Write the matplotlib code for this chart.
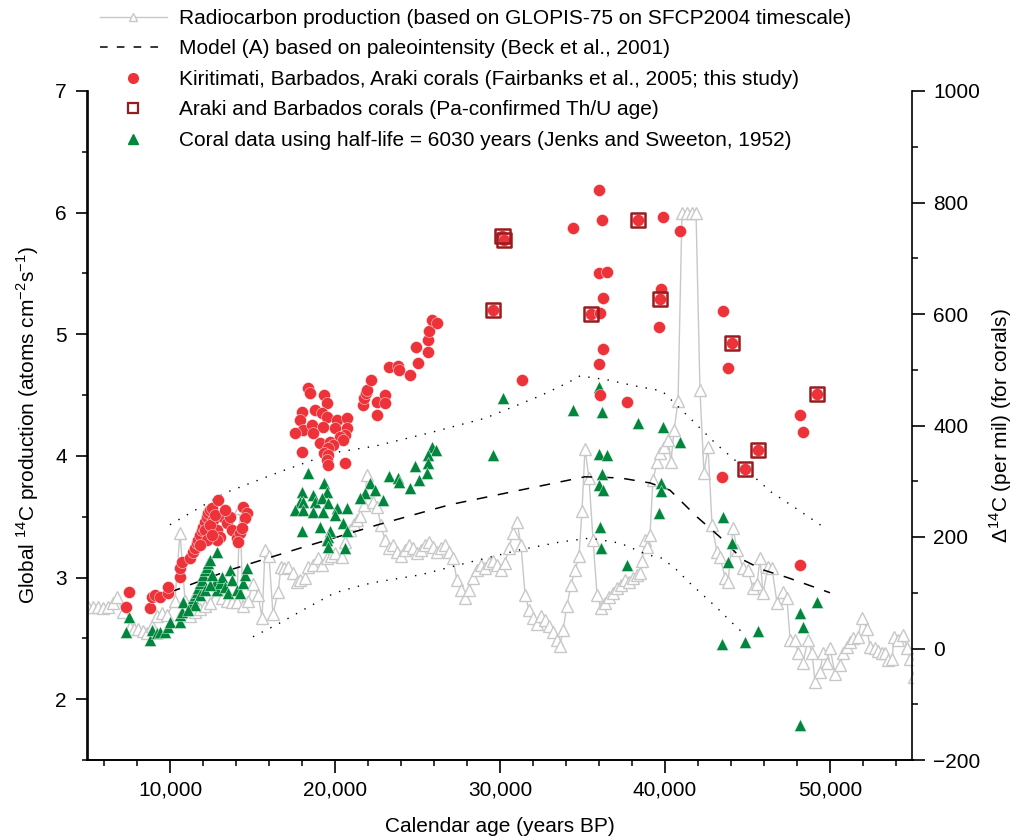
import matplotlib
matplotlib.use("Agg")
import matplotlib.pyplot as plt
from matplotlib.lines import Line2D
from matplotlib.ticker import MultipleLocator, FixedLocator

plt.rcParams['font.family'] = ['Liberation Sans', 'DejaVu Sans']

# ---------------- data ----------------
# Radiocarbon production (GLOPIS-75 on SFCP2004), left axis
prod_age = [5030, 5330, 5640, 5940, 6240, 6550, 6790, 7150, 7580, 7820, 8060, 8360, 8610, 8910, 9210,
            9520, 9820, 10300, 10610, 10910, 11210, 11520, 11820, 12120, 12420, 12850, 13150, 13450,
            13760, 14060, 14240, 14420, 14730, 15030, 15330, 15580, 15760, 16000, 16240, 16550, 16730,
            16910, 17150, 17450, 17700, 17880, 18180, 18360, 18670, 18970, 19210, 19520, 19760, 20000,
            20420, 20610, 20910, 21150, 21330, 21520, 21760, 21940, 22120, 22300, 22550, 22790, 23030,
            23270, 23520, 23760, 24000, 24240, 24480, 24730, 24970, 25210, 25450, 25700, 25940, 26180,
            26420, 26670, 26910, 27150, 27390, 27640, 27880, 28120, 28360, 28610, 28850, 29090, 29330,
            29580, 29820, 30060, 30300, 30550, 30790, 31030, 31270, 31520, 31760, 32000, 32240, 32480,
            32730, 32970, 33210, 33450, 33640, 33820, 34060, 34300, 34550, 34790, 34970, 35150, 35390,
            35640, 35880, 36120, 36360, 36610, 36850, 37090, 37330, 37580, 37820, 38060, 38300, 38480,
            38610, 38790, 38910, 39090, 39270, 39520, 39700, 39940, 40180, 40360, 40550, 40790, 41030,
            41330, 41640, 41880, 42120, 42360, 42610, 42850, 43150, 43330, 43640, 43820, 44120, 44360,
            44730, 45030, 45330, 45580, 45760, 45940, 46240, 46480, 46790, 47150, 47390, 47580, 47880,
            48060, 48360, 48670, 48910, 49090, 49390, 49580, 49820, 50000, 50300, 50610, 50790, 51030,
            51210, 51390, 51700, 51940, 52240, 52420, 52730, 52910, 53150, 53330, 53520, 53760, 53880,
            54120, 54420, 54670, 54850, 55090]
prod_val = [2.76, 2.76, 2.76, 2.75, 2.76, 2.79, 2.84, 2.72, 2.59, 2.58, 2.58, 2.56, 2.54, 2.60, 2.68,
            2.71, 2.69, 2.81, 3.37, 2.81, 2.68, 2.72, 2.74, 2.77, 2.79, 2.90, 2.83, 2.81,
            2.80, 2.80, 3.57, 2.77, 2.81, 2.95, 2.86, 2.67, 3.23, 3.18, 2.70, 2.88, 3.09,
            3.08, 3.09, 3.04, 2.96, 2.98, 3.00, 3.09, 3.10, 3.16, 3.10, 3.16, 3.18, 3.20,
            3.17, 3.29, 3.39, 3.44, 3.47, 3.51, 3.60, 3.84, 3.72, 3.62, 3.58, 3.43, 3.31,
            3.24, 3.27, 3.21, 3.18, 3.23, 3.27, 3.24, 3.20, 3.23, 3.27, 3.29, 3.25, 3.21,
            3.24, 3.27, 3.21, 3.16, 2.98, 2.90, 2.83, 2.90, 3.00, 3.06, 3.10, 3.08, 3.12,
            3.14, 3.10, 3.06, 3.12, 3.24, 3.37, 3.46, 3.27, 2.86, 2.73, 2.67, 2.62, 2.68,
            2.65, 2.60, 2.55, 2.49, 2.44, 2.57, 2.77, 2.94, 3.06, 3.18, 3.55, 4.06, 3.82,
            3.31, 2.86, 2.75, 2.79, 2.84, 2.87, 2.91, 2.94, 2.98, 2.96, 3.00, 3.02, 3.04,
            3.14, 3.31, 3.25, 3.35, 3.80, 3.95, 4.02, 4.07, 4.13, 3.95, 4.21, 4.45, 6.00,
            6.00, 6.00, 6.00, 4.54, 3.86, 4.07, 3.43, 3.21, 3.17, 3.00, 2.96, 3.41, 3.23,
            3.08, 3.06, 2.91, 2.95, 3.16, 2.87, 3.09, 3.08, 2.79, 2.88, 2.83, 2.49, 2.49,
            2.38, 2.30, 2.49, 2.38, 2.14, 2.22, 2.38, 2.30, 2.42, 2.21, 2.28, 2.38, 2.43,
            2.47, 2.50, 2.51, 2.67, 2.58, 2.43, 2.42, 2.40, 2.38, 2.38, 2.32, 2.33, 2.51,
            2.49, 2.53, 2.42, 2.33, 2.18]

# Model (A) based on paleointensity (right axis, per mil)
model_age = [10000, 13640, 17880, 22610, 26970, 31210, 35150, 37270, 39090, 40300, 41940, 43330,
             44730, 45940, 47450, 50000]
model_val = [101, 141, 180, 222, 258, 284, 308, 306, 297, 284, 236, 200, 159, 141, 127, 100]

upper_age = [10000, 13330, 16670, 19880, 22420, 25760, 29090, 32420, 34060, 34850, 36480, 38180,
             39820, 41450, 43090, 44790, 46420, 48060, 49700]
upper_val = [222, 279, 317, 351, 363, 387, 413, 453, 476, 489, 482, 471, 462, 415, 367, 324, 281,
             249, 216]
lower_age = [15030, 16670, 18360, 20000, 21700, 22490, 25150, 28180, 31210, 33640, 35450, 37270,
             38970, 39820, 40670, 41520, 42300, 43150, 44000, 44790]
lower_val = [21, 46, 74, 100, 114, 119, 132, 155, 177, 191, 198, 189, 168, 162, 142, 117, 96, 73,
             48, 26]

# Kiritimati, Barbados, Araki corals (right axis)
red_age = [7520, 7330, 8790, 8910, 9090, 9390, 9880, 9880, 10610, 10610, 10730, 11210, 11390, 11520,
           11640, 11700, 11820, 11940, 12000, 12120, 12240, 12300, 12420, 12550, 12910, 12610, 12850,
           13030, 12850, 13210, 13450, 13640, 13760, 14060, 14240, 14420, 14670, 14550, 14360, 14120,
           12120, 12420, 12730, 12240, 12550, 11820, 13330,
           18360, 18480, 19330, 19520, 17970, 18760, 19210, 19520, 20120, 20730, 17880, 18060, 18610,
           19270, 20000, 20730, 17580, 18670, 20610, 20300, 20480, 19090, 19700, 19880, 19580, 17970,
           19360, 19580, 19520, 19580, 20610,
           21700, 21760, 21880, 21940, 22180, 22550, 23030, 23030, 22550, 23270, 23820, 23880, 24550,
           25030, 24910, 25640, 25640, 25700, 25880, 26180,
           35980, 36180, 34420, 38360, 39880, 30150, 30220, 35980, 36480, 39760, 36240, 39700, 29580,
           35510, 36060, 39640, 36240, 35990, 31330, 36060, 37700, 40910, 43520, 44060, 43820, 49210,
           48180, 48360, 45640, 44850, 43450, 48180]
red_val = [101, 74, 73, 92, 96, 92, 100, 110, 128, 144, 155, 162, 173, 180,
           189, 195, 204, 213, 218, 227, 236, 243, 248, 252, 266, 230, 213,
           200, 195, 236, 225, 236, 213, 198, 207, 254, 243, 234, 216, 191,
           213, 222, 240, 195, 204, 186, 248,
           467, 458, 455, 440, 424, 428, 422, 415, 410, 413, 410, 392, 401,
           397, 396, 396, 387, 387, 383, 379, 374, 369, 370, 365, 360, 352,
           351, 347, 338, 329, 333,
           437, 449, 458, 464, 482, 442, 455, 440, 419, 505, 507, 500, 491,
           512, 541, 532, 553, 570, 589, 584,
           822, 769, 754, 769, 774, 740, 733, 674, 675, 645, 629, 627, 607,
           600, 602, 577, 537, 510, 482, 455, 442, 749, 605, 548, 503, 457,
           419, 388, 356, 322, 308, 150]

# Araki and Barbados corals with Pa-confirmed Th/U ages (right axis)
pa_age = [30150, 30220, 29580, 35510, 38360, 39700, 44060, 45640, 44850, 49210]
pa_val = [740, 733, 607, 600, 769, 627, 548, 356, 322, 457]

# Coral data using half-life = 6030 years (right axis)
grn_age = [7520, 7330, 8790, 8910, 9210, 9390, 9700, 9880, 10000, 10610, 10610, 10730, 10790, 11330,
           11390, 11520, 11640, 11700, 11820, 11940, 12000, 12120, 12240, 12300, 12420, 12850, 12730,
           12850, 13030, 13150, 13330, 13640, 13760, 13510, 14060, 14240, 14420, 14550, 14670,
           11820, 12120, 12420, 12550, 11520, 11090,
           18360, 17970, 17880, 18060, 17580, 18060, 18670, 18790, 19330, 19520, 19210, 19580, 18670,
           19270, 20120, 20730, 20000, 17970, 19090, 19700, 19580, 20480, 20730, 19520, 19580, 20610,
           25880, 26120, 25640, 25640, 24850, 25580, 25120, 24550, 23270, 23820, 23880, 22120, 21820,
           21520, 22420, 22910,
           30180, 36000, 34420, 36180, 38360, 39880, 29580, 36000, 36480, 36180, 40910, 39760, 39760,
           39640, 43520, 44060, 43820, 49210, 48180, 48360, 45640, 44850, 43450, 48180, 37700, 36000,
           36240, 36060, 36120]
grn_val = [57, 30, 15, 33, 28, 30, 30, 39, 48, 48, 60, 65, 83, 82,
           91, 96, 101, 109, 117, 123, 132, 141, 146, 153, 159, 173, 117,
           105, 117, 128, 110, 141, 123, 99, 105, 99, 117, 132, 144,
           96, 105, 114, 132, 78, 69,
           315, 281, 263, 263, 248, 248, 275, 263, 297, 281, 270, 261, 245,
           245, 252, 252, 239, 210, 218, 211, 200, 225, 211, 195, 182, 180,
           361, 356, 347, 333, 327, 315, 302, 288, 309, 306, 298, 297, 279,
           270, 284, 266,
           449, 469, 428, 424, 404, 397, 347, 349, 347, 313, 370, 297, 283,
           243, 236, 189, 155, 83, 64, 39, 31, 12, 8, -137, 150, 293,
           284, 218, 180]

x_ticks = [10000, 20000, 30000, 40000, 50000]
x_ticklabels = ["10,000", "20,000", "30,000", "40,000", "50,000"]

labels = ["Radiocarbon production (based on GLOPIS-75 on SFCP2004 timescale)",
          "Model (A) based on paleointensity (Beck et al., 2001)",
          "Kiritimati, Barbados, Araki corals (Fairbanks et al., 2005; this study)",
          "Araki and Barbados corals (Pa-confirmed Th/U age)",
          "Coral data using half-life = 6030 years (Jenks and Sweeton, 1952)"]

# ---------------- styles ----------------
GREY = "#c8c8c8"
RED = "#ee3239"
DRED = "#9a1b1f"
GREEN = "#00873d"
FS = 15

fig = plt.figure(figsize=(10.19, 8.40), dpi=100)
ax = fig.add_axes([87.5 / 1019, 1 - 760 / 840, 825 / 1019, 669 / 840])
ax2 = ax.twinx()

ax.plot(prod_age, prod_val, color=GREY, lw=1.0, marker="^", ms=8.5, mfc="white",
        mec=GREY, mew=1.0, zorder=2, clip_on=True)

ax2.plot(upper_age, upper_val, color="black", lw=1.0, ls=(0, (1, 6)), zorder=3)
ax2.plot(lower_age, lower_val, color="black", lw=1.0, ls=(0, (1, 6)), zorder=3)
ax2.plot(model_age, model_val, color="black", lw=1.1, ls=(0, (7, 7)), zorder=3)

ax2.scatter(grn_age, grn_val, marker="^", s=75, color=GREEN, edgecolors="white",
            linewidths=0.3, zorder=4)
ax2.scatter(red_age, red_val, marker="o", s=75, color=RED, edgecolors="white",
            linewidths=0.3, zorder=5)
ax2.scatter(pa_age, pa_val, marker="s", s=105, facecolors="none", edgecolors=DRED,
            linewidths=1.8, zorder=6)

# axes ranges
ax.set_xlim(5000, 55000)
ax.set_ylim(1.5, 7)
ax2.set_ylim(-200, 1000)

ax.xaxis.set_major_locator(FixedLocator(x_ticks))
ax.set_xticklabels(x_ticklabels)
ax.xaxis.set_minor_locator(MultipleLocator(2000))
ax.set_yticks([2, 3, 4, 5, 6, 7])
ax.yaxis.set_minor_locator(MultipleLocator(0.5))
ax2.yaxis.set_major_locator(MultipleLocator(200))
ax2.yaxis.set_minor_locator(MultipleLocator(100))

for a in (ax, ax2):
    a.spines["top"].set_visible(False)
    for s in a.spines.values():
        s.set_linewidth(1.2)
    a.tick_params(which="major", direction="out", length=9, width=1.2, labelsize=FS, pad=6)
    a.tick_params(which="minor", direction="out", length=4.5, width=1.1)
ax.spines["right"].set_visible(False)

ax.set_xlabel("Calendar age (years BP)", fontsize=FS, labelpad=12)
ax.set_ylabel("Global $^{\\mathregular{14}}$C production (atoms cm$^{\\mathregular{-2}}$s$^{\\mathregular{-1}}$)",
              fontsize=FS, labelpad=10)
ax2.set_ylabel("$\\mathregular{\\Delta}^{\\mathregular{14}}$C (per mil) (for corals)", fontsize=FS, labelpad=5)

# legend
handles = [
    Line2D([], [], color=GREY, lw=1.0, marker="^", ms=6, mfc="white", mec=GREY),
    Line2D([], [], color="black", lw=1.1, ls=(0, (5, 6))),
    Line2D([], [], ls="none", marker="o", ms=7, color=RED),
    Line2D([], [], ls="none", marker="s", ms=7, mfc="none", mec=DRED, mew=1.6),
    Line2D([], [], ls="none", marker="^", ms=7.5, color=GREEN),
]
fig.legend(handles, labels, loc="upper left", bbox_to_anchor=(100 / 1019, 1 - 9 / 840),
           frameon=False, fontsize=FS, handlelength=3.2, handletextpad=0.6,
           labelspacing=0.55, borderpad=0, borderaxespad=0)

fig.savefig("out.png", dpi=100)
